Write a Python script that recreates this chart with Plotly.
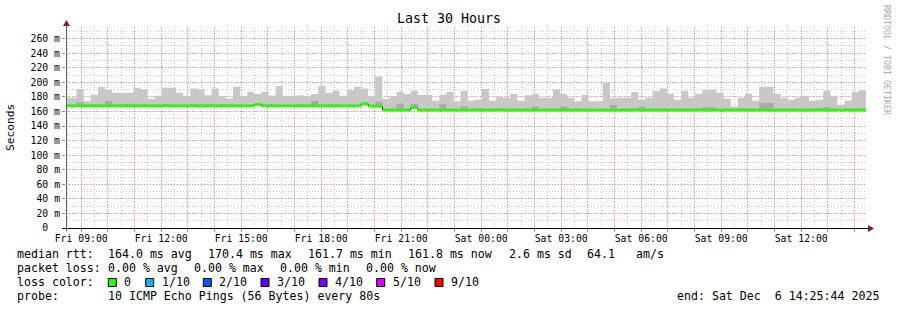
import plotly.graph_objects as go
import pandas as pd

# ---------------- data ----------------
t_start = "2025-12-05 08:25:44"
t_end = "2025-12-06 14:25:44"
first_bar = "2025-12-05 08:17:30"
bar_minutes = 16

# top of smoke (max ping) per 16-minute bar, ms
smoke_top = [
    179, 179, 191, 174.5, 182.5, 193.5, 190, 185.6, 185.6, 185.6,
    192.5, 190.5, 177.5, 181.5, 192.5, 192.5, 185.6, 181, 191.5, 190.5,
    182.4, 191.5, 181, 177.8, 193.8, 181, 187, 184, 187, 182,
    195, 181.5, 181.5, 182.4, 181.5, 184, 195, 185.6, 188.4, 181.5,
    190, 193.8, 191.5, 181.5, 208, 177.5, 181, 187, 184, 188.4,
    182.6, 182.6, 174.6, 182.6, 186.8, 174, 188.4, 174.6, 176, 191,
    174.6, 180, 178.7, 184, 174.6, 182.4, 184, 178.7, 178.7, 190.6,
    184, 178.7, 174, 182.6, 174, 174, 199.5, 178, 178.7, 178.7,
    186.8, 176, 178.7, 188.2, 191.5, 184.2, 176, 188.4, 178.7, 184.2,
    189.7, 189.7, 185.6, 177.4, 167, 178.7, 184.2, 174.6, 193.8, 193.8,
    184.2, 178.7, 176, 178.7, 181.5, 174.6, 176, 188.4, 181.5, 169,
    174.6, 186.8, 189,
]

# median rtt per bar, ms
median_rtt = [
    167.8, 167.8, 167.8, 167.8, 167.8, 167.8, 167.8, 167.8, 167.8, 167.8,
    167.8, 167.8, 167.8, 167.8, 167.8, 167.8, 167.8, 167.8, 167.8, 167.8,
    167.8, 167.8, 167.8, 167.8, 167.8, 167.8, 167.8, 169.6, 167.8, 167.8,
    167.8, 167.8, 167.8, 167.8, 167.8, 167.8, 167.8, 167.8, 167.8, 167.8,
    167.8, 167.8, 170.4, 167.3, 167.3, 162.0, 162.0, 162.0, 162.0, 165.2,
    161.8, 161.8, 161.8, 161.8, 161.8, 161.8, 161.8, 161.8, 161.8, 161.8,
    161.8, 161.8, 161.8, 161.8, 161.8, 161.8, 161.8, 161.8, 161.8, 161.8,
    161.8, 161.8, 161.8, 161.8, 161.8, 161.8, 161.8, 161.8, 161.8, 161.8,
    161.8, 161.8, 161.8, 161.8, 161.8, 161.8, 161.8, 161.8, 161.8, 161.8,
    161.8, 161.8, 161.8, 161.8, 161.8, 161.8, 161.8, 161.8, 161.8, 161.8,
    161.8, 161.8, 161.8, 161.8, 161.8, 161.8, 161.8, 161.8, 161.8, 161.8,
    161.8, 161.8, 161.8,
]

# height of the denser (darker) smoke above the median, ms
dense_smoke = [
    1.8, 1.8, 4.5, 1.8, 2.6, 1.8, 7.0, 1.8, 2.6, 3.0,
    1.8, 2.6, 1.8, 1.8, 2.6, 1.8, 1.8, 1.8, 2.6, 1.8,
    1.8, 1.8, 2.6, 1.8, 1.8, 1.8, 1.8, 1.8, 1.8, 2.6,
    1.8, 1.8, 1.8, 2.6, 1.8, 7.0, 1.8, 1.8, 2.6, 1.8,
    1.8, 1.8, 1.8, 1.8, 6.0, 1.8, 1.8, 9.0, 1.8, 5.0,
    1.8, 2.6, 1.8, 8.0, 1.8, 1.8, 5.5, 1.8, 2.6, 1.8,
    1.8, 2.6, 1.8, 1.8, 1.8, 2.6, 5.0, 1.8, 1.8, 1.8,
    5.0, 1.8, 2.6, 1.8, 1.8, 1.8, 1.8, 7.0, 1.8, 1.8,
    2.6, 5.0, 1.8, 1.8, 2.6, 1.8, 1.8, 1.8, 1.8, 2.6,
    4.0, 4.0, 1.8, 1.8, 1.8, 2.6, 1.8, 1.8, 10.0, 10.0,
    1.8, 1.8, 2.6, 1.8, 1.8, 1.8, 2.6, 4.5, 1.8, 1.8,
    2.6, 1.8, 2.6,
]

y_tick_values = [0, 20, 40, 60, 80, 100, 120, 140, 160, 180, 200, 220, 240, 260]
y_tick_labels = ["0\u00a0\u00a0", "20 m", "40 m", "60 m", "80 m", "100 m", "120 m",
                 "140 m", "160 m", "180 m", "200 m", "220 m", "240 m", "260 m"]

loss_colors = ["#26ff00", "#00b8ff", "#0059ff", "#5e00ff", "#7e00ff", "#dd00ff", "#ff0000"]
loss_labels = ["0", "1/10", "2/10", "3/10", "4/10", "5/10", "9/10"]

# ---------------- geometry ----------------
W, H = 897, 310
L, R, T, B = 66, 866, 27, 228
PW, PH = R - L, B - T
MONO = "DejaVu Sans Mono"
GRID_RED = "rgba(255,0,0,0.30)"
GRID_GRAY = "rgba(0,0,0,0.20)"
TICK_RED = "rgba(220,60,60,0.7)"


def ax(px):
    return (px - L) / PW


def ay(py):
    return (B - py) / PH


step = pd.Timedelta(minutes=bar_minutes)
starts = pd.date_range(first_bar, periods=len(smoke_top), freq=f"{bar_minutes}min")
edges = list(starts) + [starts[-1] + step]
top_y = smoke_top + [smoke_top[-1]]
med_y = median_rtt + [median_rtt[-1]]
dense_y = [m + d for m, d in zip(median_rtt, dense_smoke)]
dense_y = dense_y + [dense_y[-1]]

fig = go.Figure()
# smoke (light)
fig.add_trace(go.Scatter(x=edges, y=med_y, mode="lines", line=dict(width=0, shape="hv"),
                         hoverinfo="skip"))
fig.add_trace(go.Scatter(x=edges, y=top_y, mode="lines", line=dict(width=0, shape="hv"),
                         fill="tonexty", fillcolor="#C8C8C8", hoverinfo="skip"))
# smoke (dense)
fig.add_trace(go.Scatter(x=edges, y=med_y, mode="lines", line=dict(width=0, shape="hv"),
                         hoverinfo="skip"))
fig.add_trace(go.Scatter(x=edges, y=dense_y, mode="lines", line=dict(width=0, shape="hv"),
                         fill="tonexty", fillcolor="#AAAAAA", hoverinfo="skip"))
# black median outline
fig.add_trace(go.Scatter(x=edges, y=med_y, mode="lines",
                         line=dict(width=1, color="#000000", shape="hv"), hoverinfo="skip"))
# green median segments (loss 0)
gx, gy = [], []
i = 0
n = len(median_rtt)
while i < n:
    j = i
    while j + 1 < n and median_rtt[j + 1] == median_rtt[i]:
        j += 1
    gx += [starts[i], starts[j] + step, None]
    gy += [median_rtt[i], median_rtt[i], None]
    i = j + 1
fig.add_trace(go.Scatter(x=gx, y=gy, mode="lines", line=dict(width=2.8, color=loss_colors[0]),
                         hoverinfo="skip"))

# x ticks: hourly grid, labels every 3 hours
hours = pd.date_range("2025-12-05 09:00", "2025-12-06 14:00", freq="1h")
xtext = [h.strftime("%a %H:%M") if h.hour % 3 == 0 else "" for h in hours]

fig.update_layout(
    width=W, height=H,
    margin=dict(l=L, r=W - R, t=T, b=H - B, pad=0),
    paper_bgcolor="white", plot_bgcolor="white",
    showlegend=False,
    font=dict(family=MONO, color="#000000"),
    xaxis=dict(
        type="date", range=[t_start, t_end],
        tickmode="array", tickvals=list(hours), ticktext=xtext,
        showgrid=True, gridcolor=GRID_RED, griddash="1px,1px", gridwidth=1,
        ticks="outside", ticklen=3, tickcolor=TICK_RED, tickwidth=1,
        ticklabelstandoff=-2,
        tickfont=dict(family=MONO, size=9.8, color="#000000"),
        showline=False, zeroline=False,
        minor=dict(dtick=30 * 60 * 1000, tick0="2025-12-05 08:30", showgrid=True,
                   gridcolor=GRID_GRAY, griddash="1px,2px", gridwidth=1, ticks=""),
    ),
    yaxis=dict(
        range=[0, 276], tickmode="array", tickvals=y_tick_values, ticktext=y_tick_labels,
        showgrid=True, gridcolor=GRID_RED, griddash="1px,1px", gridwidth=1,
        ticks="outside", ticklen=3, tickcolor=TICK_RED, tickwidth=1,
        tickfont=dict(family=MONO, size=9.8, color="#000000"),
        showline=False, zeroline=False,
        minor=dict(dtick=10, showgrid=True, gridcolor=GRID_GRAY, griddash="1px,2px",
                   gridwidth=1, ticks=""),
    ),
)

shapes = []
# axes lines and arrows
shapes.append(dict(type="line", xref="paper", yref="paper",
                   x0=ax(62), x1=ax(868), y0=ay(228.5), y1=ay(228.5),
                   line=dict(color="#000000", width=1)))
shapes.append(dict(type="line", xref="paper", yref="paper",
                   x0=ax(66.5), x1=ax(66.5), y0=ay(231), y1=ay(25),
                   line=dict(color="#606060", width=1)))
shapes.append(dict(type="path", xref="paper", yref="paper",
                   path=f"M {ax(868)},{ay(225)} L {ax(868)},{ay(232)} L {ax(874)},{ay(228.5)} Z",
                   fillcolor="#8B1C1C", line=dict(width=0)))
shapes.append(dict(type="path", xref="paper", yref="paper",
                   path=f"M {ax(63)},{ay(26)} L {ax(70)},{ay(26)} L {ax(66.5)},{ay(20)} Z",
                   fillcolor="#8B1C1C", line=dict(width=0)))

annotations = []


def txt(s, x, y, size=11.6, anchor="left", color="#000000", angle=0):
    annotations.append(dict(text=s, x=ax(x), y=ay(y), xref="paper", yref="paper",
                            xanchor=anchor, yanchor="middle", showarrow=False,
                            borderpad=0, textangle=angle,
                            font=dict(family=MONO, size=size, color=color)))


txt("Last 30 Hours", 448.5, 19, size=13.3, anchor="center")
txt("Seconds", 11, 127, size=11.2, anchor="center", angle=-90)
txt("RRDTOOL / TOBI OETIKER", 887, 60, size=8.3, anchor="center", color="#A8A8A8", angle=90)

row1 = 254
for s, x in [("median rtt:", 16), ("164.0 ms avg", 107.3), ("170.4 ms max", 207.3),
             ("161.7 ms min", 307.3), ("161.8 ms now", 407.3), ("2.6 ms sd", 507.5),
             ("64.1", 586), ("am/s", 635)]:
    txt(s, x, row1)
row2 = 268
for s, x in [("packet loss:", 16), ("0.00 % avg", 107.3), ("0.00 % max", 193.3),
             ("0.00 % min", 279.3), ("0.00 % now", 365.3)]:
    txt(s, x, row2)
row3 = 282
txt("loss color:", 16, row3)
sq_x = [108.3, 145.7, 203.3, 261, 319, 376.7, 435]
for c, lab, x in zip(loss_colors, loss_labels, sq_x):
    shapes.append(dict(type="rect", xref="paper", yref="paper",
                       x0=ax(x), x1=ax(x + 8), y0=ay(278.5), y1=ay(286.5),
                       fillcolor=c, line=dict(color="#000000", width=1)))
    txt(lab, x + 15, row3)
row4 = 296
txt("probe:", 16, row4)
txt("10 ICMP Echo Pings (56 Bytes) every 80s", 107.3, row4)
txt("end: Sat Dec\u00a0\u00a06 14:25:44 2025", 880, row4, anchor="right")

fig.update_layout(shapes=shapes, annotations=annotations)
fig.write_html("out.html")
